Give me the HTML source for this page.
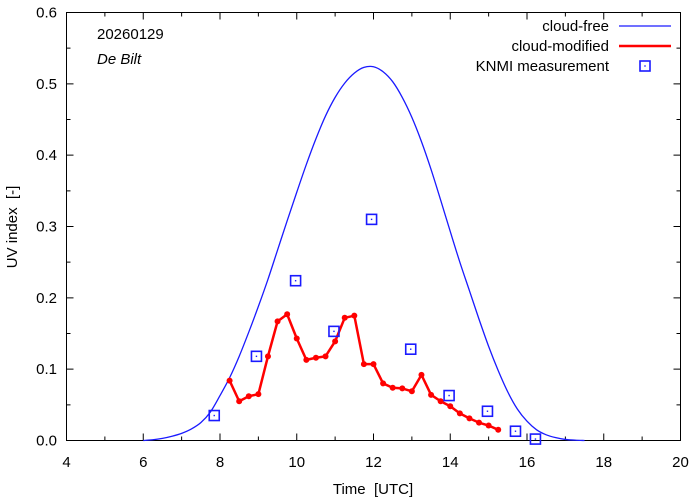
<!DOCTYPE html>
<html><head><meta charset="utf-8"><style>
body{margin:0;background:#fff}
svg{display:block;font-family:"Liberation Sans",sans-serif}
text{white-space:pre}
</style></head><body>
<svg id="c" width="694" height="501"></svg>
<script>
const cfStart=6.0, cfStep=0.25;
const cfV=[0,0.001,0.003,0.006,0.01,0.016,0.025,0.040,0.063,0.088,0.118,0.152,0.188,0.226,0.267,0.308,0.348,0.387,0.423,0.455,0.481,0.501,0.515,0.523,0.524,0.517,0.503,0.481,0.453,0.419,0.38,0.337,0.293,0.25,0.21,0.17,0.132,0.098,0.068,0.044,0.027,0.015,0.008,0.004,0.0015,0.0005,0];
const cmStart=8.25, cmStep=0.25;
const cmV=[0.084,0.055,0.062,0.065,0.118,0.167,0.177,0.143,0.113,0.116,0.118,0.139,0.172,0.175,0.107,0.107,0.080,0.074,0.073,0.069,0.092,0.064,0.055,0.048,0.038,0.031,0.025,0.021,0.015];
const msT=[7.85,8.95,9.97,10.97,11.95,12.97,13.97,14.97,15.7,16.22];
const msV=[0.035,0.118,0.224,0.153,0.31,0.128,0.063,0.041,0.013,0.002];
const xTicks=[4,6,8,10,12,14,16,18,20];
const yTicks=[0,0.1,0.2,0.3,0.4,0.5,0.6];
const yLabels=["0.0","0.1","0.2","0.3","0.4","0.5","0.6"];

const L=66.5,R=680.5,T=12.5,B=440.5;
const X=t=>L+(t-4)/16*(R-L), Y=v=>B-v/0.6*(B-T);
const s=document.getElementById('c'),NS="http://www.w3.org/2000/svg";
function el(tag,a,txt){const e=document.createElementNS(NS,tag);for(const k in a)e.setAttribute(k,a[k]);if(txt!=null)e.textContent=txt;s.appendChild(e);return e;}
let e;
e=el('rect',{x:L,y:T,width:R-L,height:B-T,fill:'none',stroke:'#000','stroke-width':1});


xTicks.forEach((t,i)=>{
 e=el('path',{d:`M${X(t)},${B}v-7M${X(t)},${T}v7`,stroke:'#000'});
 
 
 if(i<xTicks.length-1){e=el('path',{d:`M${X(t+1)},${B}v-4M${X(t+1)},${T}v4`,stroke:'#000'});
 
 }
 e=el('text',{x:X(t),y:467,'text-anchor':'middle','font-size':15},String(t));
 
 
});
yTicks.forEach((v,i)=>{
 e=el('path',{d:`M${L},${Y(v)}h7M${R},${Y(v)}h-7`,stroke:'#000'});
 
 
 if(i<yTicks.length-1){e=el('path',{d:`M${L},${Y(v+0.05)}h4M${R},${Y(v+0.05)}h-4`,stroke:'#000'});
 
 }
 e=el('text',{x:57,y:Y(v)+5,'text-anchor':'end','font-size':15},yLabels[i]);
 
 
});
e=el('text',{x:373,y:494,'text-anchor':'middle','font-size':15},'Time  [UTC]');


e=el('text',{x:0,y:0,'text-anchor':'middle','font-size':15,transform:'translate(17,227) rotate(-90)'},'UV index  [-]');


e=el('text',{x:97,y:39,'font-size':15},'20260129');


e=el('text',{x:97,y:64,'font-size':15,'font-style':'italic'},'De Bilt');


const P=cfV.map((v,i)=>[X(cfStart+i*cfStep),Y(v)]);
let d=`M${P[0][0]},${P[0][1]}`;
for(let i=0;i<P.length-1;i++){const p0=P[Math.max(0,i-1)],p1=P[i],p2=P[i+1],p3=P[Math.min(P.length-1,i+2)];
 d+=`C${p1[0]+(p2[0]-p0[0])/6},${p1[1]+(p2[1]-p0[1])/6} ${p2[0]-(p3[0]-p1[0])/6},${p2[1]-(p3[1]-p1[1])/6} ${p2[0]},${p2[1]}`;}
e=el('path',{d:d,fill:'none',stroke:'#1a1aff','stroke-width':1.3});


const cm=cmV.map((v,i)=>[X(cmStart+i*cmStep),Y(v)]);
e=el('polyline',{points:cm.map(p=>p.join(',')).join(' '),fill:'none',stroke:'#f00','stroke-width':2.5,'stroke-linejoin':'round'});


cm.forEach(p=>{e=el('circle',{cx:p[0],cy:p[1],r:3,fill:'#f00'});
 
 });
msT.forEach((t,i)=>{const x=X(t),y=Y(msV[i]);
 e=el('rect',{x:x-5,y:y-5,width:10,height:10,fill:'none',stroke:'#1a1aff','stroke-width':1.6});
 
 
 el('rect',{x:x-0.7,y:y-0.7,width:1.4,height:1.4,fill:'#1a1aff'});});
const lg=[['cloud-free',26],['cloud-modified',46],['KNMI measurement',66]];
lg.forEach(([n,y])=>{e=el('text',{x:609,y:y+5,'text-anchor':'end','font-size':15},n);
 
 });
e=el('path',{d:'M619,26h52',stroke:'#1a1aff','stroke-width':1.3});


e=el('path',{d:'M619,46h52',stroke:'#f00','stroke-width':2.5});


e=el('rect',{x:640,y:61,width:10,height:10,fill:'none',stroke:'#1a1aff','stroke-width':1.6});


el('rect',{x:644.3,y:65.3,width:1.4,height:1.4,fill:'#1a1aff'});
</script>
</body></html>
